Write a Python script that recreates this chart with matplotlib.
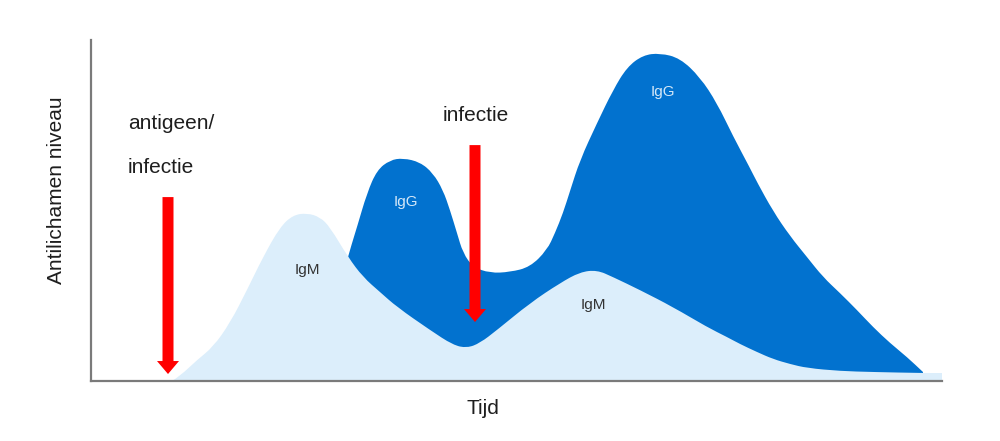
import matplotlib.pyplot as plt
from matplotlib.path import Path
from matplotlib.patches import PathPatch

plt.rcParams['font.family'] = ['Liberation Sans', 'DejaVu Sans']

# curves (x in pixels, y = height above the time axis)
igm_x = [172, 180, 197, 213, 230, 247, 263, 280, 293, 307, 320, 330, 348, 363, 380,
         397, 430, 453, 467, 480, 497, 530, 560, 580, 597, 613, 640, 673, 707, 727,
         740, 757, 773, 790, 807, 840, 873, 923, 942]
igm_y = [0, 5, 21, 34, 58, 91, 124, 154, 166, 168, 164, 154, 124, 104, 89,
         74, 51, 36, 33, 38, 51, 78, 98, 109, 111, 104, 91, 74, 54, 44,
         37, 29, 22, 17, 13, 10, 9, 8, 8]

igg_x = [348, 352, 357, 367, 377, 390, 403, 420, 433, 443, 450, 457, 463, 473, 490,
         510, 530, 547, 555, 563, 570, 580, 597, 613, 627, 643, 660, 680, 700, 717,
         733, 750, 757, 773, 790, 807, 823, 840, 857, 873, 890, 907, 923]
igg_y = [124, 138, 154, 188, 211, 221, 223, 219, 208, 191, 171, 148, 128, 114, 108,
         109, 114, 131, 148, 168, 190, 221, 258, 291, 314, 326, 328, 323, 304, 278,
         245, 213, 199, 170, 145, 124, 104, 88, 71, 54, 38, 24, 9]

# arrows: x, top, tip
arrow_x = [168, 475]
arrow_top = [184, 236]
arrow_tip = [7, 59]

dark_blue = '#0272CF'
light_blue = '#DCEEFB'


def smooth_area(xs, ys):
    # closed area under the points, edges drawn as quadratic curves through midpoints
    verts = [(xs[0], 0), (xs[0], ys[0])]
    codes = [Path.MOVETO, Path.LINETO]
    for i in range(1, len(xs) - 1):
        mx = (xs[i] + xs[i + 1]) / 2
        my = (ys[i] + ys[i + 1]) / 2
        verts += [(xs[i], ys[i]), (mx, my)]
        codes += [Path.CURVE3, Path.CURVE3]
    verts += [(xs[-1], ys[-1]), (xs[-1], 0), (xs[0], 0)]
    codes += [Path.LINETO, Path.LINETO, Path.CLOSEPOLY]
    return Path(verts, codes)


fig = plt.figure(figsize=(10, 4.41), dpi=100)
ax = fig.add_axes([0.091, 0.136, 0.851, 0.773])

ax.add_patch(PathPatch(smooth_area(igg_x, igg_y), facecolor=dark_blue, linewidth=0))
ax.add_patch(PathPatch(smooth_area(igm_x, igm_y), facecolor=light_blue, linewidth=0))

for x, top, tip in zip(arrow_x, arrow_top, arrow_tip):
    ax.arrow(x, top, 0, tip - top, width=11, head_width=22, head_length=13,
             length_includes_head=True, color='#FF0000', linewidth=0, zorder=5)

ax.set_xlim(91, 942)
ax.set_ylim(0, 341)
ax.set_xticks([])
ax.set_yticks([])
for s in ['top', 'right']:
    ax.spines[s].set_visible(False)
for s in ['left', 'bottom']:
    ax.spines[s].set_color('#7a7a7a')
    ax.spines[s].set_linewidth(1.6)
    ax.spines[s].set_zorder(6)

txt = '#1e1e1e'
ax.text(128, 258, 'antigeen/', fontsize=15, color=txt, va='center', ha='left')
ax.text(128, 214, 'infectie', fontsize=15, color=txt, va='center', ha='left')
ax.text(443, 266, 'infectie', fontsize=15, color=txt, va='center', ha='left')

ax.text(307, 111, 'IgM', fontsize=11, color='#333333', ha='center', va='center')
ax.text(593, 76, 'IgM', fontsize=11, color='#333333', ha='center', va='center')
ax.text(406, 179, 'IgG', fontsize=11, color='#D5E8F8', ha='center', va='center')
ax.text(663, 289, 'IgG', fontsize=11, color='#D5E8F8', ha='center', va='center')

fig.text(0.057, 1 - 190 / 441, 'Antilichamen niveau', fontsize=15, color=txt,
         rotation=90, ha='center', va='center')
fig.text(0.483, 1 - 408 / 441, 'Tijd', fontsize=15, color=txt, ha='center', va='center')

fig.savefig('out.png', dpi=100)
